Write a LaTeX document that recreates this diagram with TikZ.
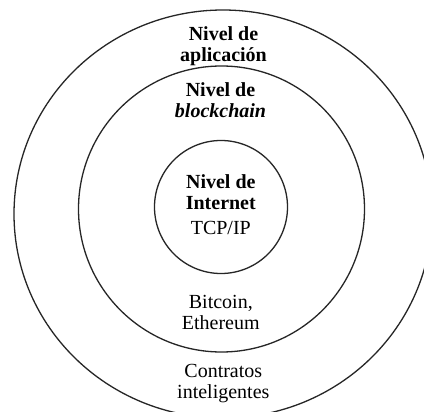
\documentclass[tikz,border=0pt]{standalone}
\usepackage{fontspec}
\setmainfont{Liberation Serif}
\begin{document}
\begin{tikzpicture}[x=1pt,y=-1pt,
  ring/.style={draw=black!85, line width=1.3pt},
  lbl/.style={font=\fontsize{20}{21}\selectfont, align=center, anchor=base, inner sep=0pt},
  ttl/.style={lbl, font=\fontsize{20}{21}\selectfont\bfseries}]
\useasboundingbox (0,0) rectangle (424,412);
\clip (0,0) rectangle (424,412);
\fill[white] (0,0) rectangle (424,412);
% rings
\draw[ring] (223,214) ellipse [x radius=209pt, y radius=204pt];
\node[ring, circle, minimum size=286pt, inner sep=0pt] (mid) at (221.5,209) {};
\node[ring, circle, minimum size=133pt, inner sep=0pt] (core) at (221,207) {};
% labels (anchor = baseline of last line)
\node[ttl] (appl) at (223.5,61.7) {Nivel de\\aplicación};
\node[ttl] (blk) at (220.5,117.7) {Nivel de\\\textit{blockchain}};
\node[ttl] (inet) at (220.8,209.3) {Nivel de\\Internet};
\node[lbl] (tcp) at (220.8,235) {TCP/IP};
\node[lbl] (btc) at (220.8,330) {Bitcoin,\\Ethereum};
\node[lbl] (smart) at (223.3,398.3) {Contratos\\inteligentes};
\end{tikzpicture}
\end{document}
